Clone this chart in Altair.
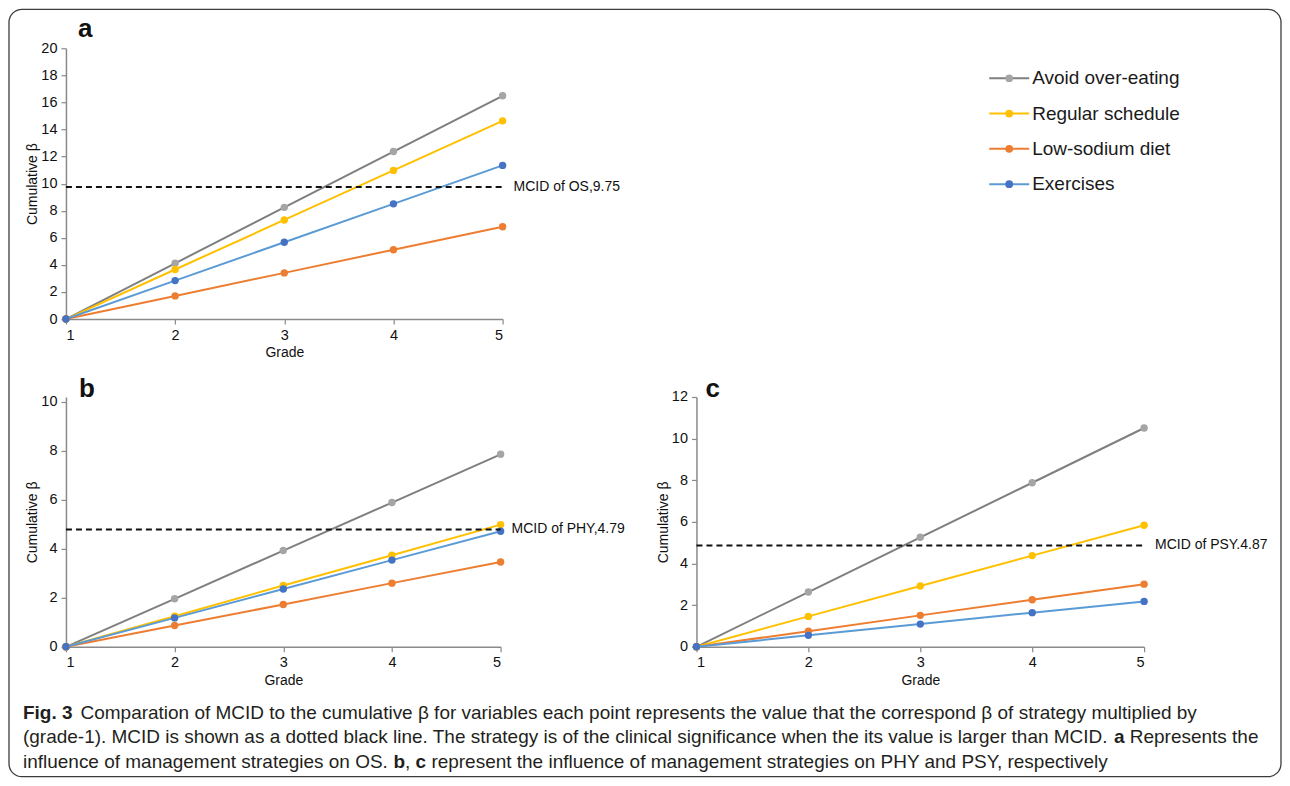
import altair as alt
import pandas as pd

grades = [1, 2, 3, 4, 5]
strategies = ["Avoid over-eating", "Regular schedule", "Low-sodium diet", "Exercises"]

# Panel a (OS)
os_avoid = [0, 4.12, 8.25, 12.37, 16.49]
os_regular = [0, 3.66, 7.32, 10.98, 14.64]
os_sodium = [0, 1.71, 3.41, 5.12, 6.82]
os_exercise = [0, 2.84, 5.67, 8.51, 11.35]
# Panel b (PHY)
phy_avoid = [0, 1.96, 3.93, 5.89, 7.86]
phy_regular = [0, 1.25, 2.50, 3.74, 4.99]
phy_sodium = [0, 0.87, 1.73, 2.60, 3.46]
phy_exercise = [0, 1.18, 2.36, 3.54, 4.72]
# Panel c (PSY)
psy_avoid = [0, 2.63, 5.26, 7.88, 10.51]
psy_regular = [0, 1.46, 2.92, 4.38, 5.84]
psy_sodium = [0, 0.75, 1.51, 2.26, 3.01]
psy_exercise = [0, 0.55, 1.09, 1.64, 2.18]

mcid_values = [9.75, 4.79, 4.87]
mcid_labels = ["MCID of OS,9.75", "MCID of PHY,4.79", "MCID of PSY.4.87"]
panel_letters = ["a", "b", "c"]

line_colors = ["#7f7f7f", "#ffc000", "#ed7d31", "#5b9bd5"]
point_colors = ["#a5a5a5", "#ffc000", "#ed7d31", "#4472c4"]

cap_fig = "Fig. 3"
caption_l1 = "Comparation of MCID to the cumulative \u03b2 for variables each point represents the value that the correspond \u03b2 of strategy multiplied by"
caption_l2 = "(grade-1). MCID is shown as a dotted black line. The strategy is of the clinical significance when the its value is larger than MCID."
caption_l2b = "Represents the"
caption_l3 = "influence of management strategies on OS."
caption_l3b = "represent the influence of management strategies on PHY and PSY, respectively"

SANS = "Liberation Sans, Arial, sans-serif"

# approximate Arial / Liberation Sans advance widths (per 1000 em) to place bold words inline
_W = {" ": 278, "(": 333, ")": 333, ",": 278, "-": 333, ".": 278, "\u03b2": 575}
for ch in "0123456789":
    _W[ch] = 556
for ch, w in zip("ABCDEFGHIJKLMNOPQRSTUVWXYZ",
                 [667, 667, 722, 722, 667, 611, 778, 722, 278, 500, 667, 556, 833, 722, 778,
                  667, 778, 722, 667, 611, 722, 667, 944, 667, 667, 611]):
    _W[ch] = w
for ch, w in zip("abcdefghijklmnopqrstuvwxyz",
                 [556, 556, 500, 556, 556, 278, 556, 556, 222, 222, 500, 222, 833, 556, 556,
                  556, 556, 333, 500, 278, 556, 500, 722, 500, 500, 500]):
    _W[ch] = w
_WB = {"a": 556, "b": 611, "c": 556, "F": 611, "i": 278, "g": 611, ".": 278, " ": 278, "3": 556,
       ",": 278}


def tw(s, size, bold=False):
    table = _WB if bold else _W
    return sum(table.get(ch, 556) for ch in s) * size / 1000.0


line_scale = alt.Scale(domain=strategies, range=line_colors)
point_scale = alt.Scale(domain=strategies, range=point_colors)


def panel(series, ymax, ytop, mcid, label, letter, width, height, letter_dx, letter_off):
    rows = []
    for s, vals in zip(strategies, series):
        for g, v in zip(grades, vals):
            rows.append({"grade": g, "value": v, "strategy": s})
    df = pd.DataFrame(rows)
    yvals = list(range(0, ymax + 1, 2))
    x_axis = alt.Axis(values=grades, format="d", title="Grade", labelPadding=4,
                      titlePadding=4, labelOverlap=False)
    y_axis = alt.Axis(values=yvals, tickCount=len(yvals), format="d", title="Cumulative \u03b2",
                      labelPadding=4, titlePadding=1, labelOverlap=False)
    xs = alt.Scale(domain=[1, 5], nice=False, zero=False)
    ys = alt.Scale(domain=[0, ytop], nice=False)
    base = alt.Chart(df)
    lines = base.mark_line(strokeWidth=2).encode(
        x=alt.X("grade:Q", scale=xs, axis=x_axis),
        y=alt.Y("value:Q", scale=ys, axis=y_axis),
        stroke=alt.Stroke("strategy:N", scale=line_scale, legend=None),
    )
    points = base.mark_circle(size=55, opacity=1).encode(
        x=alt.X("grade:Q", scale=xs, axis=x_axis),
        y=alt.Y("value:Q", scale=ys, axis=y_axis),
        fill=alt.Fill("strategy:N", scale=point_scale, legend=None),
    )
    mdf = pd.DataFrame({"value": [mcid], "label": [label]})
    rule = alt.Chart(mdf).mark_rule(strokeDash=[6, 4], strokeWidth=2, color="#111").encode(
        y=alt.Y("value:Q", scale=ys, axis=y_axis), x=alt.datum(1), x2=alt.datum(5)
    )
    text = alt.Chart(mdf).mark_text(align="left", baseline="middle", dx=11, font=SANS,
                                    fontSize=14, color="#111").encode(
        x=alt.datum(5), y=alt.Y("value:Q", scale=ys, axis=y_axis), text="label:N"
    )
    return alt.layer(lines, points, rule, text).properties(
        width=width, height=height,
        title=alt.Title(letter, anchor="start", frame="group", dx=letter_dx, offset=letter_off,
                        fontSize=26, font=SANS, fontWeight="bold", color="#111"),
    )


pa = panel([os_avoid, os_regular, os_sodium, os_exercise], 20, 20, mcid_values[0],
           mcid_labels[0], panel_letters[0], 437, 271, 12, -2)
pb = panel([phy_avoid, phy_regular, phy_sodium, phy_exercise], 10, 10.2, mcid_values[1],
           mcid_labels[1], panel_letters[1], 435, 250, 13, -8)
pc = panel([psy_avoid, psy_regular, psy_sodium, psy_exercise], 12, 12, mcid_values[2],
           mcid_labels[2], panel_letters[2], 448, 250, 9, -13)

# custom legend (line + dot symbols)
ldf = pd.DataFrame({"strategy": strategies, "idx": list(range(len(strategies)))})
ly = alt.Y("idx:Q", scale=alt.Scale(domain=[0, 3], range=[30, 136]), axis=None)
lbase = alt.Chart(ldf)
lrule = lbase.mark_rule(strokeWidth=2).encode(
    x=alt.value(293), x2=alt.value(333), y=ly,
    stroke=alt.Stroke("strategy:N", scale=line_scale, legend=None))
lpt = lbase.mark_circle(size=60, opacity=1).encode(
    x=alt.value(313), y=ly,
    fill=alt.Fill("strategy:N", scale=point_scale, legend=None))
ltxt = lbase.mark_text(align="left", baseline="middle", font=SANS, fontSize=19,
                       color="#1a1a1a").encode(x=alt.value(336), y=ly, text="strategy:N")
legend = alt.layer(lrule, lpt, ltxt).properties(width=448, height=271)

# caption (inline bold words placed after the regular runs) and the figure frame
CF = 19
X0 = -43
Y1, Y2, Y3 = -12, 12, 37
SP = tw(" ", CF)
cap = pd.DataFrame({"d": [0]})
cbase = alt.Chart(cap)


def ctext(s, x, y, bold=False):
    kw = dict(align="left", baseline="middle", font=SANS, fontSize=CF, color="#231f20", text=s)
    if bold:
        kw["fontWeight"] = "bold"
    return cbase.mark_text(**kw).encode(x=alt.value(x), y=alt.value(y))


x_l1 = X0 + tw(cap_fig, CF, True) + 8
x_a = X0 + tw(caption_l2, CF) + SP
x_l2b = x_a + tw("a", CF, True) + SP
x_b = X0 + tw(caption_l3, CF) + SP
x_comma = x_b + tw("b", CF, True)
x_c = x_comma + tw(",", CF) + SP
x_l3b = x_c + tw("c", CF, True) + SP

frame = cbase.mark_rect(fillOpacity=0, stroke="#3c3c3c", strokeWidth=1.3, cornerRadius=13).encode(
    x=alt.value(-57), x2=alt.value(1216), y=alt.value(-716), y2=alt.value(52)
)

c_layers = [
    frame,
    ctext(cap_fig, X0, Y1, True),
    ctext(caption_l1, x_l1, Y1),
    ctext(caption_l2, X0, Y2),
    ctext("a", x_a, Y2, True),
    ctext(caption_l2b, x_l2b, Y2),
    ctext(caption_l3, X0, Y3),
    ctext("b", x_b, Y3, True),
    ctext(",", x_comma, Y3),
    ctext("c", x_c, Y3, True),
    ctext(caption_l3b, x_l3b, Y3),
]
caption = alt.layer(*c_layers).properties(width=1, height=1)

chart = alt.concat(
    pa, legend, pb, pc, caption, columns=2, bounds="flush",
    spacing=alt.RowColnumber(row=78, column=194),
).properties(
    padding={"left": 0, "top": 0, "right": 0, "bottom": 0},
    background="white",
).configure_view(stroke=None).configure_axis(
    grid=False, labelOverlap=False,
    labelFont=SANS, labelFontSize=14.5, labelColor="#111",
    titleFont=SANS, titleFontSize=14, titleFontWeight="normal", titleColor="#111",
    domainColor="#8a8a8a", tickColor="#8a8a8a", domainWidth=1.5, tickWidth=1.2, tickSize=5,
)

chart.save("out.html", embed_options={"renderer": "svg", "actions": False})
